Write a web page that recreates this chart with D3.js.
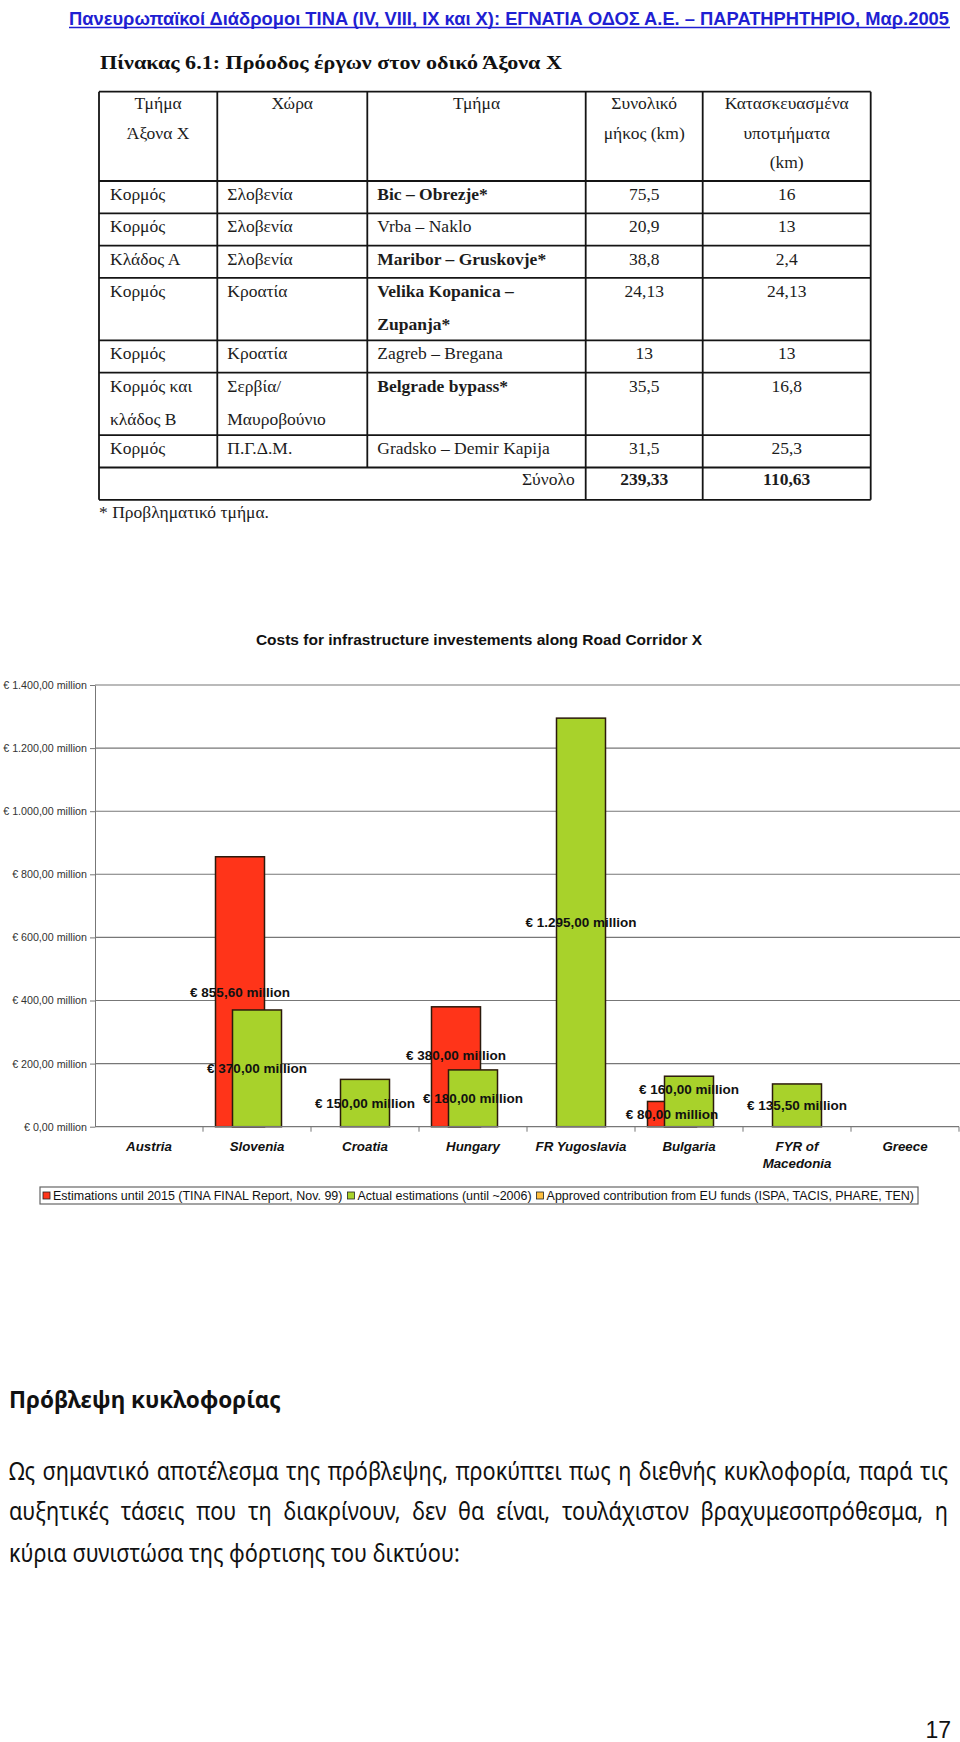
<!DOCTYPE html>
<html>
<head>
<meta charset="utf-8">
<script src="https://cdn.jsdelivr.net/npm/d3@7"></script>
<style>
  body { margin: 0; background: #fff; }
  svg { display: block; }
</style>
</head>
<body>
<svg width="960" height="1742"></svg>
<script>
// ---- chart data ----
var categories = ['Austria', 'Slovenia', 'Croatia', 'Hungary', 'FR Yugoslavia', 'Bulgaria', 'FYR of Macedonia', 'Greece'];
var estimations2015 = [null, 855.6, null, 380, null, 80, null, null];
var actualEstimations = [null, 370, 150, 180, 1295, 160, 135.5, null];
var euContribution = [null, null, null, null, null, null, null, null];
var seriesNames = [
  'Estimations until 2015 (TINA FINAL Report, Nov. 99)',
  'Actual estimations (until ~2006)',
  'Approved contribution from EU funds (ISPA, TACIS, PHARE, TEN)'
];
var yTicks = [0, 200, 400, 600, 800, 1000, 1200, 1400];

// ---- table data ----
var tableHeaders = ['Τμήμα\nΆξονα Χ', 'Χώρα', 'Τμήμα', 'Συνολικό\nμήκος (km)', 'Κατασκευασμένα\nυποτμήματα\n(km)'];
var tableBranch = ['Κορμός', 'Κορμός', 'Κλάδος Α', 'Κορμός', 'Κορμός', 'Κορμός και\nκλάδος Β', 'Κορμός'];
var tableCountry = ['Σλοβενία', 'Σλοβενία', 'Σλοβενία', 'Κροατία', 'Κροατία', 'Σερβία/\nΜαυροβούνιο', 'Π.Γ.Δ.Μ.'];
var tableSection = ['Bic – Obrezje*', 'Vrba – Naklo', 'Maribor – Gruskovje*', 'Velika Kopanica –\nZupanja*', 'Zagreb – Bregana', 'Belgrade bypass*', 'Gradsko – Demir Kapija'];
var tableTotalKm = [75.5, 20.9, 38.8, 24.13, 13, 35.5, 31.5];
var tableBuiltKm = [16, 13, 2.4, 24.13, 13, 16.8, 25.3];

// ---- page text ----
var headerText = 'Πανευρωπαϊκοί Διάδρομοι TINA (IV, VIII, IX και X): ΕΓΝΑΤΙΑ ΟΔΟΣ Α.Ε. – ΠΑΡΑΤΗΡΗΤΗΡΙΟ, Μαρ.2005';
var tableTitle = 'Πίνακας 6.1: Πρόοδος έργων στον οδικό Άξονα Χ';
var tableNote = '* Προβληματικό τμήμα.';
var chartTitle = 'Costs for infrastructure investements along Road Corridor X';
var heading = 'Πρόβλεψη κυκλοφορίας';
var bodyLines = [
  'Ως σημαντικό αποτέλεσμα της πρόβλεψης, προκύπτει πως η διεθνής κυκλοφορία, παρά τις',
  'αυξητικές τάσεις που τη διακρίνουν, δεν θα είναι, τουλάχιστον βραχυμεσοπρόθεσμα, η',
  'κύρια συνιστώσα της φόρτισης του δικτύου:'
];
var pageNumber = '17';

var svg = d3.select('svg');
var kmFmt = function(v) { return String(Math.round(v * 100) / 100).replace('.', ','); };

// squeeze a text horizontally so it spans the given width
var fitWidth = function(sel, x0, y0, width) {
  var w = sel.node().getComputedTextLength();
  sel.attr('transform', 'translate(' + x0 + ',' + y0 + ') scale(' + (width / w) + ',1)');
};

// ================= header =================
var head = svg.append('text')
  .attr('font-family', '"Liberation Sans Narrow", "Liberation Sans", Arial, sans-serif')
  .attr('font-weight', 'bold').attr('font-size', 19)
  .attr('fill', '#1f1fd2')
  .text(headerText);
fitWidth(head, 69, 25, 881);
svg.append('line')
  .attr('x1', 69).attr('x2', 950).attr('y1', 27.5).attr('y2', 27.5)
  .attr('stroke', '#1f1fd2').attr('stroke-width', 1.4);

// ================= table =================
var serif = '"Liberation Serif", "Times New Roman", serif';
var colX = [99, 217.3, 367.3, 585.7, 702.7, 870.7];
var tableTop = 91.7, headerH = 89.3, rowH = 32.3, extraLineH = 30.2;

var tt = svg.append('text')
  .attr('font-family', serif).attr('font-weight', 'bold').attr('font-size', 19)
  .attr('fill', '#111')
  .text(tableTitle);
fitWidth(tt, 100, 69, 462);

var tbl = svg.append('g').attr('font-family', serif).attr('font-size', 17.5).attr('fill', '#1c1c1c');

tableHeaders.forEach(function(h, i) {
  var cx = (colX[i] + colX[i + 1]) / 2;
  h.split('\n').forEach(function(line, j) {
    tbl.append('text')
      .attr('x', cx).attr('y', tableTop + 17.5 + j * 29.3)
      .attr('text-anchor', 'middle')
      .text(line);
  });
});

var rowTops = [];
var yy = tableTop + headerH;
tableBranch.forEach(function(b, i) {
  var n = d3.max([tableBranch[i], tableCountry[i], tableSection[i]], function(s) { return s.split('\n').length; });
  rowTops.push(yy);
  yy += rowH + (n - 1) * extraLineH;
});
var totalTop = yy;
var tableBottom = totalTop + rowH;

function cellLines(text, x, top, anchor, bold) {
  text.split('\n').forEach(function(line, j) {
    tbl.append('text')
      .attr('x', x).attr('y', top + 19 + j * 33)
      .attr('text-anchor', anchor)
      .attr('font-weight', bold ? 'bold' : null)
      .text(line);
  });
}

tableBranch.forEach(function(b, i) {
  var top = rowTops[i];
  cellLines(tableBranch[i], colX[0] + 11, top, 'start', false);
  cellLines(tableCountry[i], colX[1] + 10, top, 'start', false);
  cellLines(tableSection[i], colX[2] + 10, top, 'start', tableSection[i].indexOf('*') >= 0);
  cellLines(kmFmt(tableTotalKm[i]), (colX[3] + colX[4]) / 2, top, 'middle', false);
  cellLines(kmFmt(tableBuiltKm[i]), (colX[4] + colX[5]) / 2, top, 'middle', false);
});
cellLines('Σύνολο', colX[3] - 11, totalTop - 2, 'end', false);
cellLines(kmFmt(d3.sum(tableTotalKm)), (colX[3] + colX[4]) / 2, totalTop - 2, 'middle', true);
cellLines(kmFmt(d3.sum(tableBuiltKm)), (colX[4] + colX[5]) / 2, totalTop - 2, 'middle', true);

var borders = svg.append('g').attr('stroke', '#141414').attr('stroke-width', 1.8);
[tableTop, tableTop + headerH].concat(rowTops.slice(1), [totalTop, tableBottom]).forEach(function(y) {
  borders.append('line').attr('x1', colX[0]).attr('x2', colX[5]).attr('y1', y).attr('y2', y);
});
colX.forEach(function(x, i) {
  var bottom = (i === 1 || i === 2) ? totalTop : tableBottom;
  borders.append('line').attr('x1', x).attr('x2', x).attr('y1', tableTop).attr('y2', bottom);
});

svg.append('text')
  .attr('x', 99).attr('y', tableBottom + 18)
  .attr('font-family', serif).attr('font-size', 17.5).attr('fill', '#1c1c1c')
  .text(tableNote);

// ================= chart =================
var plot = { left: 95, right: 959, top: 685, bottom: 1126.7 };
var colors = ['#ff3419', '#a8d22b', '#ffbf3f'];
var series = [estimations2015, actualEstimations, euContribution];
var barWidth = 49, seriesStep = 17;
// labels that sit a little above the middle of their bar in the original
var labelShift = { 'Hungary-0': -12, 'Bulgaria-1': -12 };

var locale = d3.formatLocale({ decimal: ',', thousands: '.', grouping: [3], currency: ['€ ', ''] });
var euro = function(v) { return locale.format('$,.2f')(v) + ' million'; };

var x = d3.scaleBand().domain(categories).range([plot.left, plot.right]);
var y = d3.scaleLinear().domain([0, 1400]).range([plot.bottom, plot.top]);

var chart = svg.append('g').attr('font-family', 'Arial, "Liberation Sans", sans-serif');

chart.append('text')
  .attr('x', 479).attr('y', 645)
  .attr('text-anchor', 'middle')
  .attr('font-weight', 'bold').attr('font-size', 15.5).attr('fill', '#111')
  .text(chartTitle);

chart.append('g').selectAll('line')
  .data(yTicks.filter(function(t) { return t > 0; }))
  .enter().append('line')
  .attr('x1', plot.left).attr('x2', 960)
  .attr('y1', function(d) { return y(d); }).attr('y2', function(d) { return y(d); })
  .attr('stroke', '#777').attr('stroke-width', 1.1);

var yAxis = chart.append('g')
  .attr('transform', 'translate(' + plot.left + ',0)')
  .call(d3.axisLeft(y).tickValues(yTicks).tickSize(5).tickSizeOuter(0).tickPadding(3).tickFormat(euro));
yAxis.select('.domain').attr('stroke', '#777');
yAxis.selectAll('.tick line').attr('stroke', '#777');
yAxis.selectAll('.tick text').attr('font-size', 10.7).attr('fill', '#333').attr('font-family', 'Arial, "Liberation Sans", sans-serif');

// bars
series.forEach(function(vals, s) {
  chart.append('g').selectAll('rect')
    .data(vals.map(function(v, i) { return { cat: categories[i], v: v }; }).filter(function(d) { return d.v != null; }))
    .enter().append('rect')
    .attr('x', function(d) { return x(d.cat) + x.bandwidth() / 2 + (s - 1) * seriesStep - barWidth / 2; })
    .attr('y', function(d) { return y(d.v); })
    .attr('width', barWidth)
    .attr('height', function(d) { return y(0) - y(d.v); })
    .attr('fill', colors[s])
    .attr('stroke', '#2b1a0c').attr('stroke-width', 1.5);
});

// x axis
chart.append('line')
  .attr('x1', plot.left).attr('x2', plot.right).attr('y1', y(0)).attr('y2', y(0))
  .attr('stroke', '#777').attr('stroke-width', 1.2);
chart.append('g').selectAll('line')
  .data(categories.slice(1).map(function(c) { return x(c); }).concat([plot.right]))
  .enter().append('line')
  .attr('x1', function(d) { return d; }).attr('x2', function(d) { return d; })
  .attr('y1', y(0)).attr('y2', y(0) + 5)
  .attr('stroke', '#777');

var xLabels = chart.append('g')
  .attr('font-size', 13.3).attr('font-weight', 'bold').attr('font-style', 'italic').attr('fill', '#111')
  .attr('text-anchor', 'middle');
categories.forEach(function(c) {
  var t = xLabels.append('text').attr('x', x(c) + x.bandwidth() / 2).attr('y', 1151);
  var words = c.split(' '), line = [], lines = [];
  words.forEach(function(w) {
    line.push(w);
    t.text(line.join(' '));
    if (t.node().getComputedTextLength() > x.bandwidth() - 8 && line.length > 1) {
      line.pop(); lines.push(line.join(' ')); line = [w];
    }
  });
  lines.push(line.join(' '));
  t.text(null);
  lines.forEach(function(l, j) {
    t.append('tspan').attr('x', x(c) + x.bandwidth() / 2).attr('dy', j ? 17 : 0).text(l);
  });
});

// data labels at bar middles
series.forEach(function(vals, s) {
  vals.forEach(function(v, i) {
    if (v == null) return;
    var c = categories[i];
    chart.append('text')
      .attr('x', x(c) + x.bandwidth() / 2 + (s - 1) * seriesStep)
      .attr('y', y(v / 2) + (labelShift[c + '-' + s] || 0))
      .attr('dy', '0.36em')
      .attr('text-anchor', 'middle')
      .attr('font-size', 13.5).attr('font-weight', 'bold').attr('fill', '#111')
      .text(euro(v));
  });
});

// legend
var legend = chart.append('g');
legend.append('rect')
  .attr('x', 40).attr('y', 1187).attr('width', 878).attr('height', 17)
  .attr('fill', '#fff').attr('stroke', '#666').attr('stroke-width', 1.2);
var legTexts = seriesNames.map(function(n) {
  return legend.append('text').attr('y', 1195.7).attr('dy', '0.36em')
    .attr('font-size', 12.5).attr('fill', '#111').text(n);
});
var natural = legTexts.map(function(t) { return t.node().getComputedTextLength(); });
var fixedSpace = 3 + 3 * (7 + 3) + 2 * 5 + 4;
var k = (878 - fixedSpace) / d3.sum(natural);
var lx = 43;
legTexts.forEach(function(t, i) {
  legend.append('rect')
    .attr('x', lx).attr('y', 1192).attr('width', 7).attr('height', 7)
    .attr('fill', colors[i]).attr('stroke', '#222').attr('stroke-width', 0.8);
  lx += 10;
  t.attr('x', lx).attr('textLength', natural[i] * k).attr('lengthAdjust', 'spacingAndGlyphs');
  lx += natural[i] * k + 5;
});

// ================= body text =================
var sans = '"Noto Sans", "Open Sans", sans-serif';
var h = svg.append('text')
  .attr('font-family', sans).attr('font-weight', 'bold').attr('font-size', 24).attr('fill', '#111')
  .text(heading);
fitWidth(h, 9, 1408, 272);

var body = svg.append('g').attr('font-family', sans).attr('font-size', 25).attr('fill', '#111');
var probe = body.append('text').text(bodyLines[2]);
var sx = 451 / probe.node().getComputedTextLength();
probe.remove();
var baselines = [1480, 1520, 1562];
bodyLines.forEach(function(line, i) {
  var g = body.append('g').attr('transform', 'translate(9,' + baselines[i] + ') scale(' + sx + ',1)');
  if (i === bodyLines.length - 1) { g.append('text').text(line); return; }
  var words = line.split(' ');
  var ts = words.map(function(w) { return g.append('text').text(w); });
  var widths = ts.map(function(t) { return t.node().getComputedTextLength(); });
  var gap = (939 / sx - d3.sum(widths)) / (words.length - 1);
  var px = 0;
  ts.forEach(function(t, j) { t.attr('x', px); px += widths[j] + gap; });
});

svg.append('text')
  .attr('x', 951).attr('y', 1738).attr('text-anchor', 'end')
  .attr('font-family', 'Arial, "Liberation Sans", sans-serif').attr('font-size', 23).attr('fill', '#111')
  .text(pageNumber);
</script>
</body>
</html>
